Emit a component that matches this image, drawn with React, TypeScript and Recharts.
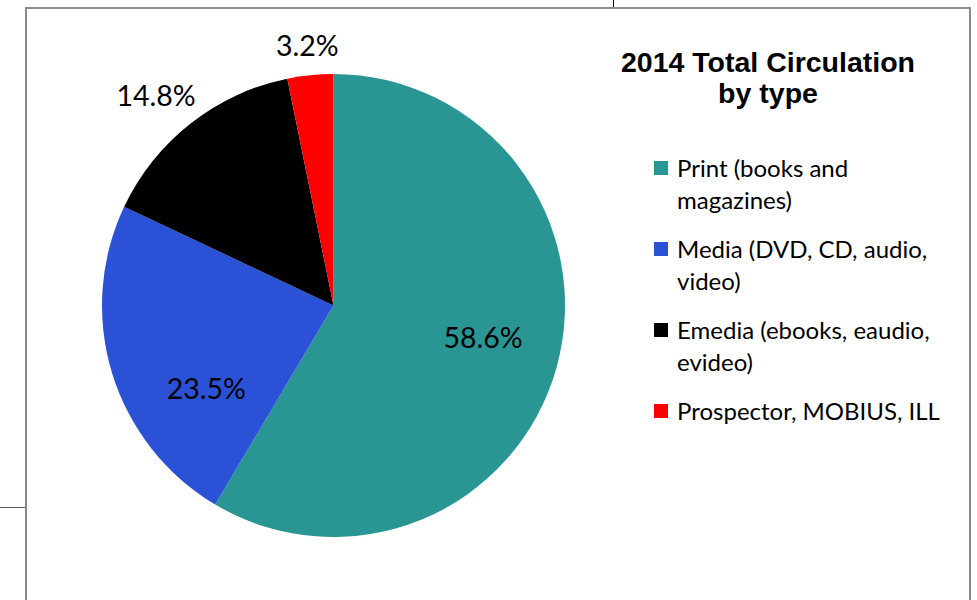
import { Cell, Legend, Pie, PieChart } from "recharts";

const CATEGORIES = [
  "Print (books and magazines)",
  "Media (DVD, CD, audio, video)",
  "Emedia (ebooks, eaudio, evideo)",
  "Prospector, MOBIUS, ILL",
];
const SHARES = [58.6, 23.5, 14.8, 3.2];
const COLORS = ["#299694", "#2b52d6", "#000000", "#ff0000"];
const TITLE_LINES = ["2014 Total Circulation", "by type"];

// where Excel dropped each data label: radius as a share of the pie, plus a small angle nudge
const LABEL_RADIUS = [0.66, 0.655, 1.19, 1.13];
const LABEL_NUDGE = [3.5, 16, 2, 0];

const TEXT_FONT = "Lato, 'Open Sans', sans-serif";
const TITLE_FONT = "'Liberation Sans', Arial, sans-serif";

const data = CATEGORIES.map((name, i) => ({ name, value: SHARES[i] }));

const RADIAN = Math.PI / 180;

function SliceLabel(props: any) {
  const { cx, cy, midAngle, outerRadius, index, value } = props;
  const angle = (midAngle + LABEL_NUDGE[index]) * RADIAN;
  const r = outerRadius * LABEL_RADIUS[index];
  const x = cx + r * Math.cos(angle);
  const y = cy - r * Math.sin(angle);
  return (
    <text
      x={x}
      y={y}
      textAnchor="middle"
      dominantBaseline="central"
      fill="#000"
      style={{ fontFamily: TEXT_FONT, fontSize: 28.5 }}
    >
      {`${value.toFixed(1)}%`}
    </text>
  );
}

function LegendContent({ payload }: any) {
  const items = [...(payload ?? [])].sort(
    (a: any, b: any) => CATEGORIES.indexOf(a.value) - CATEGORIES.indexOf(b.value)
  );
  return (
    <div style={{ fontFamily: TEXT_FONT, fontSize: 24, lineHeight: "32px", color: "#000" }}>
      {items.map((entry: any) => (
        <div key={entry.value} style={{ display: "flex", marginBottom: 17 }}>
          <span
            style={{
              width: 14,
              height: 14,
              marginTop: 9,
              marginRight: 9,
              flex: "0 0 auto",
              background: entry.color,
            }}
          />
          <span style={{ width: 285 }}>{entry.value}</span>
        </div>
      ))}
    </div>
  );
}

export default function App() {
  return (
    <div
      style={{
        position: "absolute",
        left: 0,
        top: 0,
        width: 977,
        height: 600,
        background: "#fff",
        overflow: "hidden",
      }}
    >
      <div style={{ position: "absolute", left: 613, top: 0, width: 1, height: 7, background: "#000" }} />
      <div style={{ position: "absolute", left: 0, top: 507, width: 25, height: 1, background: "#555" }} />
      <div
        style={{
          position: "absolute",
          left: 25,
          top: 7,
          width: 942,
          height: 620,
          border: "2px solid #8a8a8a",
        }}
      />
      <svg width={977} height={600} style={{ position: "absolute", left: 0, top: 0 }}>
        {TITLE_LINES.map((line, i) => (
          <text
            key={line}
            x={768}
            y={72 + i * 31}
            textAnchor="middle"
            fill="#000"
            style={{ fontFamily: TITLE_FONT, fontWeight: "bold", fontSize: 28.5 }}
          >
            {line}
          </text>
        ))}
      </svg>
      <PieChart
        width={977}
        height={600}
        margin={{ top: 0, right: 0, bottom: 0, left: 0 }}
        style={{ position: "absolute", left: 0, top: 0 }}
      >
        <Pie
          data={data}
          dataKey="value"
          nameKey="name"
          cx={333.5}
          cy={305.5}
          outerRadius={231.5}
          startAngle={90}
          endAngle={-270}
          stroke="none"
          label={SliceLabel}
          labelLine={false}
          isAnimationActive={false}
        >
          {data.map((d, i) => (
            <Cell key={d.name} fill={COLORS[i]} />
          ))}
        </Pie>
        <Legend
          layout="vertical"
          content={<LegendContent />}
          wrapperStyle={{ left: 654, top: 152, width: 320 }}
        />
      </PieChart>
    </div>
  );
}
